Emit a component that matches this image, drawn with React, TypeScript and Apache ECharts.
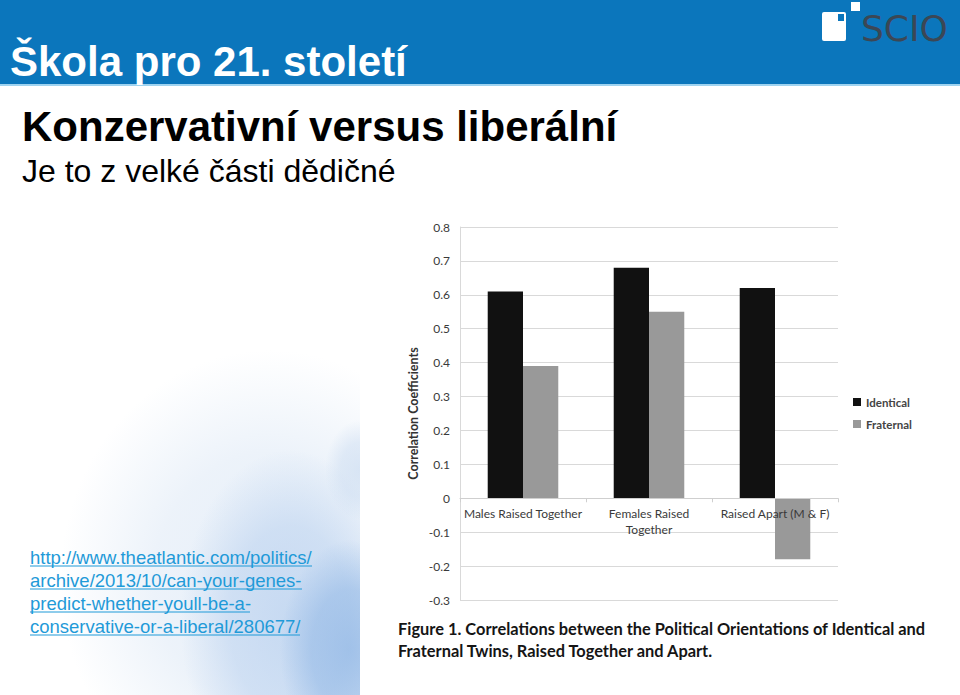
import React, { useEffect, useRef } from "react";
import * as echarts from "echarts";

const categories = ["Males Raised Together", "Females Raised\nTogether", "Raised Apart (M & F)"];
const identical = [0.61, 0.68, 0.62];
const fraternal = [0.39, 0.55, -0.18];
const seriesNames = ["Identical", "Fraternal"];
const yMin = -0.3;
const yMax = 0.8;
const yStep = 0.1;

const headerTitle = "Škola pro 21. století";
const heading = "Konzervativní versus liberální";
const subheading = "Je to z velké části dědičné";
const linkLines = [
  "http://www.theatlantic.com/politics/",
  "archive/2013/10/can-your-genes-",
  "predict-whether-youll-be-a-",
  "conservative-or-a-liberal/280677/",
];
const linkUnderlineWidths = [282, 272, 220, 270];
const captionLines = [
  "Figure 1. Correlations between the Political Orientations of Identical and",
  "Fraternal Twins, Raised Together and Apart.",
];

const GRID_TOP = 227;
const GRID_BOTTOM = 95;
const CHART_H = 695;

export default function App() {
  const ref = useRef<HTMLDivElement>(null);
  useEffect(() => {
    if (!ref.current) return;
    const chart = echarts.init(ref.current, undefined, { renderer: "svg" });
    const radial = (c: string, a: number) => ({
      type: "radial",
      x: 0.5,
      y: 0.5,
      r: 0.5,
      colorStops: [
        { offset: 0, color: `rgba(${c},${a})` },
        { offset: 0.55, color: `rgba(${c},${a * 0.75})` },
        { offset: 1, color: `rgba(${c},0)` },
      ],
    });
    const txt = (x: number, baseline: number, text: string, font: string, fs: number, fill: string) => ({
      type: "text",
      x,
      y: baseline - 0.35 * fs,
      style: { text, fill, font: font.replace("FS", `${fs}px`), textVerticalAlign: "middle" },
      z: 2,
    });
    const graphics: any[] = [
      // background faint logo shapes
      { type: "rect", shape: { x: 60, y: 350, width: 420, height: 460 }, style: { fill: radial("222,233,246", 0.75) }, z: 0 },
      { type: "rect", shape: { x: 180, y: 450, width: 220, height: 340 }, style: { fill: radial("190,212,240", 0.8) }, z: 0 },
      { type: "rect", shape: { x: 280, y: 540, width: 140, height: 220 }, style: { fill: radial("140,180,228", 0.7) }, z: 0 },
      { type: "rect", shape: { x: 325, y: 420, width: 70, height: 100 }, style: { fill: radial("200,218,240", 0.6) }, z: 0 },
      { type: "rect", shape: { x: 360, y: 190, width: 600, height: 505 }, style: { fill: "#ffffff" }, z: 0 },
      // header
      { type: "rect", shape: { x: 0, y: 0, width: 960, height: 84 }, style: { fill: "#0b76bc" }, z: 1 },
      { type: "rect", shape: { x: 0, y: 84, width: 960, height: 2 }, style: { fill: "#9fd3f0" }, z: 1 },
      txt(10, 76, headerTitle, "bold FS 'Liberation Sans', Arial, sans-serif", 42, "#ffffff"),
      // logo
      { type: "rect", shape: { x: 822, y: 12, width: 24, height: 29, r: 2 }, style: { fill: "#ffffff" }, z: 2 },
      { type: "rect", shape: { x: 838, y: 14, width: 6, height: 7 }, style: { fill: "#0b76bc" }, z: 3 },
      { type: "rect", shape: { x: 851, y: 2, width: 9, height: 9 }, style: { fill: "#ffffff" }, z: 2 },
      txt(861, 41, "SCIO", "FS 'DejaVu Sans', sans-serif", 36, "#3b4755"),
      // headings
      txt(22, 141, heading, "bold FS 'Liberation Sans', Arial, sans-serif", 42, "#000000"),
      txt(22, 182, subheading, "FS 'Liberation Sans', Arial, sans-serif", 32, "#000000"),
    ];
    linkLines.forEach((t, i) => {
      const base = 563.5 + i * 23;
      graphics.push(txt(30, base, t, "FS 'Liberation Sans', Arial, sans-serif", 18.5, "#1f9ad8"));
      graphics.push({
        type: "line",
        shape: { x1: 30, y1: base + 2.5, x2: 30 + linkUnderlineWidths[i], y2: base + 2.5 },
        style: { stroke: "#1f9ad8", lineWidth: 1 },
        z: 2,
      });
    });
    captionLines.forEach((t, i) => {
      graphics.push({
        type: "text",
        x: 398,
        y: 628 + i * 22,
        style: { text: t, fill: "#151515", font: "bold 16.4px Lato, sans-serif", textVerticalAlign: "middle" },
        z: 2,
      });
    });

    const plotH = CHART_H - GRID_TOP - GRID_BOTTOM;
    const zeroOffset = (plotH * (0 - yMin)) / (yMax - yMin);

    chart.setOption({
      animation: false,
      backgroundColor: "transparent",
      graphic: graphics,
      grid: { left: 460, right: 122, top: GRID_TOP, bottom: GRID_BOTTOM, containLabel: false },
      legend: {
        data: seriesNames,
        orient: "vertical",
        left: 848,
        top: 391,
        icon: "rect",
        itemWidth: 8,
        itemHeight: 8,
        itemGap: 10,
        textStyle: { fontFamily: "Lato, sans-serif", fontSize: 11.5, fontWeight: "bold", color: "#444" },
      },
      xAxis: {
        type: "category",
        data: categories,
        position: "bottom",
        offset: -zeroOffset,
        z: 5,
        axisLine: { onZero: false, lineStyle: { color: "#cfcfcf" } },
        axisTick: { show: true, length: 4, lineStyle: { color: "#cfcfcf" } },
        axisLabel: {
          color: "#3a3a3a",
          fontFamily: "Lato, sans-serif",
          fontSize: 12,
          margin: 7,
          interval: 0,
          lineHeight: 16,
        },
      },
      yAxis: {
        type: "value",
        min: yMin,
        max: yMax,
        interval: yStep,
        name: "Correlation Coefficients",
        nameLocation: "middle",
        nameRotate: 90,
        nameGap: 40,
        nameTextStyle: { fontFamily: "Lato, sans-serif", fontSize: 12.5, fontWeight: "bold", color: "#333" },
        axisLine: { show: true, lineStyle: { color: "#d9d9d9" } },
        axisTick: { show: false },
        axisLabel: {
          color: "#3a3a3a",
          fontFamily: "Lato, sans-serif",
          fontSize: 12,
          margin: 10,
          formatter: (v: number) => String(Math.round(v * 10) / 10),
        },
        splitLine: { show: true, lineStyle: { color: "#d9d9d9" } },
      },
      series: [
        {
          name: seriesNames[0],
          type: "bar",
          data: identical,
          itemStyle: { color: "#111111" },
          barGap: "0%",
          barCategoryGap: "44%",
          z: 2,
        },
        {
          name: seriesNames[1],
          type: "bar",
          data: fraternal,
          itemStyle: { color: "#999999" },
          barGap: "0%",
          barCategoryGap: "44%",
          z: 2,
        },
      ],
    });
    return () => chart.dispose();
  }, []);
  return (
    <div
      ref={ref}
      style={{ position: "fixed", left: 0, top: 0, width: 960, height: 695, background: "#ffffff" }}
    />
  );
}
